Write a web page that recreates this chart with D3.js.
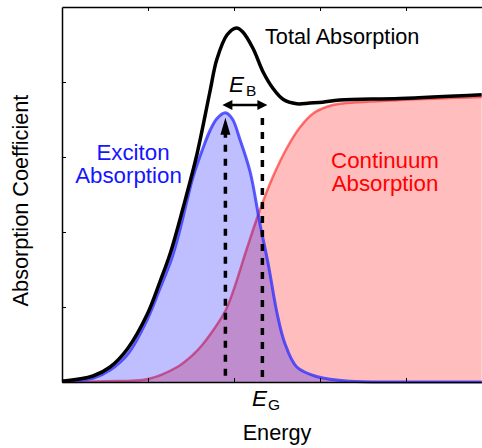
<!DOCTYPE html>
<html>
<head>
<meta charset="utf-8">
<script src="https://cdn.jsdelivr.net/npm/d3@7"></script>
<style>
  html, body { margin: 0; padding: 0; background: #fff; }
  svg { display: block; }
  text { font-family: "Liberation Sans", Arial, Helvetica, sans-serif; }
</style>
</head>
<body>
<svg id="chart" width="482" height="448"></svg>
<script>
// Energy (arbitrary units) and absorption coefficient (arbitrary units)
const excitonAbsorption = [
  [0.00, 0.01], [0.36, 0.05], [0.56, 0.16], [0.77, 0.38], [0.99, 0.83], [1.14, 1.25],
  [1.28, 1.66], [1.36, 1.98], [1.45, 2.40], [1.52, 2.72], [1.64, 3.12],
  [1.72, 3.35], [1.80, 3.51], [1.90, 3.59], [1.98, 3.51], [2.07, 3.23],
  [2.19, 2.79], [2.30, 2.12], [2.40, 1.56], [2.50, 0.92], [2.59, 0.52],
  [2.73, 0.20], [2.97, 0.07], [3.35, 0.01], [4.00, 0.00], [4.88, 0.00]
];
const continuumAbsorption = [
  [0.00, 0.00], [0.50, 0.01], [1.00, 0.04], [1.34, 0.20], [1.52, 0.36],
  [1.62, 0.48], [1.74, 0.66], [1.90, 0.95], [1.99, 1.21], [2.15, 1.78],
  [2.30, 2.29], [2.45, 2.73], [2.62, 3.13], [2.77, 3.40], [2.92, 3.58],
  [3.08, 3.67], [3.23, 3.71], [3.93, 3.76], [4.88, 3.80]
];
const totalAbsorption = [
  [0.00, 0.01], [0.36, 0.08], [0.56, 0.20], [0.76, 0.44], [0.99, 0.90], [1.14, 1.34],
  [1.26, 1.72], [1.41, 2.33], [1.57, 3.04], [1.72, 3.87], [1.80, 4.30],
  [1.92, 4.63], [2.03, 4.72], [2.10, 4.67], [2.22, 4.45], [2.34, 4.13],
  [2.45, 3.92], [2.57, 3.77], [2.73, 3.71], [2.88, 3.72], [3.03, 3.73],
  [3.23, 3.76], [3.93, 3.78], [4.88, 3.83]
];
const xTicks = [1, 2, 3, 4];
const yTicks = [1, 2, 3, 4];
const excitonPeakEnergy = 1.90;   // energy of the exciton line
const excitonPeakValue = 3.59;
const gapEnergy = 2.33;           // band gap E_G
const markerTop = 3.52;           // top of the E_G marker

const svg = d3.select("#chart");
const x = d3.scaleLinear().domain([0, 5]).range([62, 492]);
const y = d3.scaleLinear().domain([0, 5]).range([382, 7]);

const curve = d3.curveCatmullRom.alpha(0.5);
const area = d3.area()
  .x(d => x(d[0])).y0(y(0)).y1(d => y(d[1]))
  .curve(curve);
const line = d3.line()
  .x(d => x(d[0])).y(d => y(d[1]))
  .curve(curve);

// Continuum absorption
svg.append("path").attr("d", area(continuumAbsorption))
  .attr("fill", "rgba(255,0,0,0.26)");
svg.append("path").attr("d", line(continuumAbsorption))
  .attr("fill", "none").attr("stroke", "rgba(255,40,40,0.65)").attr("stroke-width", 2.5);

// Exciton absorption
svg.append("path").attr("d", area(excitonAbsorption))
  .attr("fill", "rgba(0,0,255,0.25)");
svg.append("path").attr("d", line(excitonAbsorption))
  .attr("fill", "none").attr("stroke", "rgba(50,50,255,0.8)").attr("stroke-width", 3);

// Total absorption
svg.append("path").attr("d", line(totalAbsorption))
  .attr("fill", "none").attr("stroke", "#000").attr("stroke-width", 3.5)
  .attr("stroke-linejoin", "round");

// Axes: frame with inward ticks
const axisStyle = g => {
  g.selectAll(".tick line").attr("stroke", "#000").attr("stroke-width", 1);
  g.select(".domain").attr("stroke", "#000").attr("stroke-width", 1.5);
};
svg.append("g").attr("transform", `translate(0,${y(0)})`)
  .call(d3.axisBottom(x).tickValues(xTicks).tickSizeInner(-4).tickSizeOuter(0).tickFormat(""))
  .call(axisStyle);
svg.append("g").attr("transform", `translate(0,${y(5)})`)
  .call(d3.axisTop(x).tickValues(xTicks).tickSizeInner(-4).tickSizeOuter(0).tickFormat(""))
  .call(axisStyle);
svg.append("g").attr("transform", `translate(${x(0)},0)`)
  .call(d3.axisLeft(y).tickValues(yTicks).tickSizeInner(-4).tickSizeOuter(0).tickFormat(""))
  .call(axisStyle);

// Dashed marker at the exciton peak, with upward arrowhead
const xp = x(excitonPeakEnergy), xg = x(gapEnergy);
const peakY = y(excitonPeakValue);
svg.append("line")
  .attr("x1", xp).attr("x2", xp).attr("y1", peakY + 18).attr("y2", y(0))
  .attr("stroke", "#000").attr("stroke-width", 3.5).attr("stroke-dasharray", "7,7");
svg.append("path")
  .attr("d", `M${xp},${peakY + 5} L${xp - 5},${peakY + 22} L${xp + 5},${peakY + 22} Z`)
  .attr("fill", "#000");

// Dashed marker at the band gap
svg.append("line")
  .attr("x1", xg).attr("x2", xg).attr("y1", y(markerTop)).attr("y2", y(0))
  .attr("stroke", "#000").attr("stroke-width", 3.5).attr("stroke-dasharray", "7,7");

// Binding energy double arrow
const ay = 105;
svg.append("line")
  .attr("x1", xp + 4).attr("x2", xg + 1).attr("y1", ay).attr("y2", ay)
  .attr("stroke", "#000").attr("stroke-width", 2.5);
svg.append("path")
  .attr("d", `M${xp - 3},${ay} L${xp + 7},${ay - 5} L${xp + 7},${ay + 5} Z`)
  .attr("fill", "#000");
svg.append("path")
  .attr("d", `M${xg + 5},${ay} L${xg - 5},${ay - 5} L${xg - 5},${ay + 5} Z`)
  .attr("fill", "#000");

// Labels
const fs = 21.7;
const eb = svg.append("text").attr("x", 229).attr("y", 92).attr("font-size", 22.5);
eb.append("tspan").attr("font-style", "italic").text("E");
eb.append("tspan").attr("font-size", 15.5).attr("dx", 2).attr("dy", 4).text("B");

const eg = svg.append("text").attr("x", 252).attr("y", 406).attr("font-size", 22.5);
eg.append("tspan").attr("font-style", "italic").text("E");
eg.append("tspan").attr("font-size", 15.5).attr("dx", 1).attr("dy", 4).text("G");

svg.append("text").attr("x", 265).attr("y", 44).attr("font-size", fs)
  .attr("fill", "#000").text("Total Absorption");

const fsLabel = 22.3;
svg.append("text").attr("x", 133).attr("y", 160).attr("font-size", fsLabel)
  .attr("text-anchor", "middle").attr("fill", "#1515ff").text("Exciton");
svg.append("text").attr("x", 128.5).attr("y", 183).attr("font-size", fsLabel)
  .attr("text-anchor", "middle").attr("fill", "#1515ff").text("Absorption");

svg.append("text").attr("x", 385).attr("y", 168).attr("font-size", fsLabel)
  .attr("text-anchor", "middle").attr("fill", "#ff0000").text("Continuum");
svg.append("text").attr("x", 385).attr("y", 191).attr("font-size", fsLabel)
  .attr("text-anchor", "middle").attr("fill", "#ff0000").text("Absorption");

svg.append("text").attr("x", 277).attr("y", 440).attr("font-size", fs)
  .attr("text-anchor", "middle").text("Energy");

svg.append("text")
  .attr("transform", `translate(28,${(y(0) + y(5)) / 2 + 6}) rotate(-90)`)
  .attr("font-size", fs).attr("text-anchor", "middle")
  .text("Absorption Coefficient");
</script>
</body>
</html>
